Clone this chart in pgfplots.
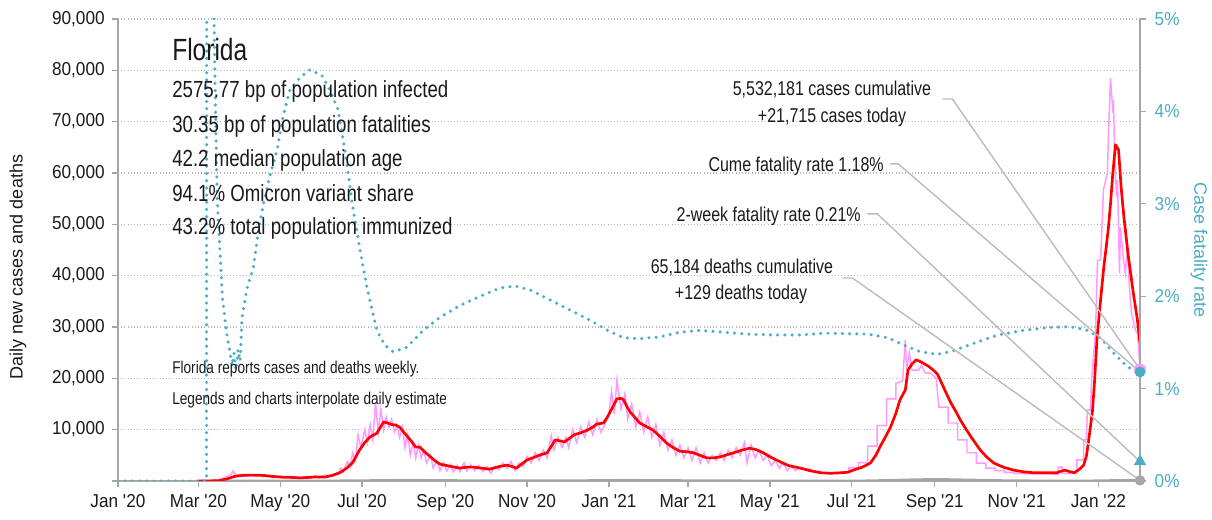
\documentclass[border=0pt]{standalone}
\usepackage{fontspec}
\setmainfont{Liberation Sans}[FakeStretch=0.8]
\newfontfamily\tickfont{Liberation Sans}[FakeStretch=0.92]
\newfontfamily\labfont{Liberation Sans}
\usepackage{pgfplots}
\pgfplotsset{compat=1.18}
\definecolor{cfr}{HTML}{4BACC6}
\definecolor{pinkc}{HTML}{FF99FF}
\definecolor{redc}{HTML}{FF0000}
\definecolor{axgray}{HTML}{A6A6A6}
\definecolor{leader}{HTML}{BDBDBD}
\definecolor{txt}{HTML}{1A1A1A}
\newcommand\tickfs{\tickfont\fontsize{14}{16}\selectfont}
\newcommand\labfs{\labfont\fontsize{13.5}{16}\selectfont}
\newcommand\titlefs{\fontsize{23}{26}\selectfont}
\newcommand\annfs{\fontsize{17.5}{20}\selectfont}
\newcommand\rfs{\fontsize{15}{18}\selectfont}
\newcommand\nfs{\fontsize{12.8}{15}\selectfont}
\begin{document}
\begin{tikzpicture}
\path[use as bounding box] (-88.5pt,-29.25pt) rectangle (820.5pt,360.75pt);
\begin{axis}[
  at={(0pt,0pt)}, anchor=south west,
  scale only axis, width=766.5pt, height=346.5pt,
  xmin=0, xmax=762, ymin=0, ymax=90,
  axis x line*=bottom, axis y line*=left,
  axis line style={axgray, line width=1.4pt},
  x axis line style={line width=2pt},
  xtick={0,60,121,182,244,305,366,425,486,547,609,670,731},
  xticklabels={Jan \textquotesingle20,Mar \textquotesingle20,May \textquotesingle20,Jul \textquotesingle20,Sep \textquotesingle20,Nov \textquotesingle20,Jan \textquotesingle21,Mar \textquotesingle21,May \textquotesingle21,Jul \textquotesingle21,Sep \textquotesingle21,Nov \textquotesingle21,Jan \textquotesingle22},
  ytick={0,10,...,90},
  yticklabels={{},{10,000},{20,000},{30,000},{40,000},{50,000},{60,000},{70,000},{80,000},{90,000}},
  tick align=outside,
  major tick length=4.5pt,
  tick style={axgray, line width=1pt},
  ymajorgrids,
  major grid style={gray!55, dotted, line width=0.8pt},
  tick label style={font=\tickfs, text=txt},
  yticklabel style={xshift=-2pt},
  xticklabel style={yshift=-2pt},
]
% daily cases (raw, interpolated)
\addplot[pinkc, line width=1.1pt] coordinates {
(60,0)(70,0.1)(75,0.2)(78,0.5)(81,0.9)(84,1.2)(86,2.0)(88,1.0)(91,1.3)(94,0.9)(98,1.2)(101,0.9)(105,1.2)(108,0.8)(112,1.1)(115,0.6)(119,0.9)(122,0.6)(126,0.8)(129,0.5)(133,0.7)(136,0.4)(140,0.9)(143,0.5)(147,1.0)(150,0.6)(154,1.2)(157,0.8)(161,1.4)(164,1.2)(166,2.5)(168,1.8)(171,3.8)(173,2.8)(175,5.5)(177,4.0)(179,9.0)(181,6.5)(184,10.0)(186,7.5)(188,11.0)(190,8.0)(192,15.3)(194,9.5)(196,14.0)(198,10.0)(200,12.5)(202,10.5)(204,12.0)(206,9.5)(208,11.0)(210,8.5)(212,10.5)(214,6.5)(216,9.0)(218,5.0)(220,7.5)(222,4.5)(224,7.0)(226,4.5)(228,6.0)(230,3.5)(233,5.0)(235,2.5)(238,4.0)(240,2.0)(243,3.5)(245,2.0)(248,3.2)(250,1.8)(253,3.0)(255,1.8)(258,3.5)(260,2.0)(263,3.2)(266,2.0)(269,3.0)(272,1.8)(275,2.8)(278,1.5)(281,2.8)(284,2.2)(287,3.5)(290,2.5)(293,3.8)(296,2.0)(299,3.5)(302,2.8)(305,4.8)(308,3.5)(311,5.5)(314,4.0)(317,6.0)(320,4.5)(323,8.8)(325,6.0)(328,8.5)(331,6.5)(334,8.5)(336,6.5)(339,10.0)(342,7.5)(345,10.5)(348,8.5)(351,11.5)(354,9.0)(357,12.0)(360,9.5)(363,11.0)(366,13.0)(368,17.5)(370,13.0)(372,19.7)(375,14.0)(378,17.0)(380,12.0)(383,15.0)(386,10.5)(389,13.5)(392,9.5)(395,12.5)(398,8.5)(401,11.0)(404,7.0)(407,9.5)(410,6.0)(413,8.0)(416,5.0)(419,7.0)(422,4.5)(425,6.5)(428,4.0)(431,6.5)(434,3.5)(437,5.5)(440,3.5)(443,5.0)(446,4.0)(449,5.5)(452,4.0)(455,6.0)(458,4.5)(461,6.5)(464,5.0)(467,7.5)(469,3.5)(472,7.0)(475,4.5)(478,6.0)(481,4.0)(484,5.0)(487,3.0)(490,4.0)(493,2.5)(496,3.5)(499,2.0)(502,3.0)(505,2.0)(508,2.5)
(510,2.3)(517,2.3)(517,1.9)(524,1.9)(524,1.6)(531,1.6)(531,1.5)(538,1.5)(538,1.7)(545,1.7)(545,2.6)(552,2.6)(552,3.6)(559,3.6)(559,6.8)(566,6.8)(566,10.8)(573,10.8)(573,16.0)(580,16.0)(580,19.0)(585,19.5)(587,27.5)(588,21.5)(590,25.0)(592,21.6)(597,21.6)(599,22.5)(602,21.0)(606,21.0)(610,20.0)(612,14.4)(619,14.4)(619,11.3)(626,11.3)(626,8.0)(633,8.0)(633,5.5)(640,5.5)(640,3.5)(647,3.5)(647,2.5)(654,2.5)(654,2.0)(661,2.0)(661,1.7)(668,1.7)(668,1.5)(675,1.5)(675,1.4)(696,1.4)(696,1.3)(701,1.3)(701,2.7)(704,2.7)(704,1.5)(710,1.5)(710,1.8)(715,1.8)(715,4.1)(720,4.1)(720,8.0)(722,8.0)(722.8,13.8)(725,13.8)(726,20)(728.8,28.8)(730.3,43)(732.5,43)(734,51.4)(734.7,56.7)(737.7,60)(738.5,67.8)(740,78.5)(741.5,72.9)(742.2,74.2)(743,64.5)(744.5,55.3)(745.2,58.6)(746.7,40.5)(747.4,49.5)(749.7,43)(751.1,40.5)(752.6,45.6)(754.1,37.8)(755.6,32.7)(758.6,29.4)(760.1,28.8)(762,22.2)
};
% daily deaths
\addplot[axgray, line width=1.8pt] coordinates {
(60,0)(80,0.01)(100,0.04)(120,0.045)(150,0.035)(180,0.08)(200,0.15)(220,0.18)(240,0.12)(270,0.09)(300,0.06)(330,0.08)(360,0.12)(380,0.17)(400,0.14)(430,0.09)(460,0.06)(490,0.05)(520,0.03)(560,0.06)(590,0.25)(610,0.35)(630,0.25)(660,0.1)(690,0.04)(720,0.03)(740,0.11)(762,0.129)
};
% 7-day average cases
\addplot[redc, line width=2pt, line join=round] coordinates {
(60,0)(75,0.05)(81,0.4)(87,0.9)(93,1.1)(100,1.15)(108,1.1)(115,0.9)(123,0.75)(130,0.7)(136,0.6)(142,0.7)(148,0.8)(154,0.75)(160,1.1)(166,1.7)(171,2.6)(175,3.6)(180,6.0)(184,7.5)(188,8.6)(193,9.3)(198,11.5)(201,11.3)(204,11.0)(207,10.9)(210,10.5)(214,9.2)(218,8.0)(222,6.6)(225,6.6)(229,5.6)(233,4.7)(237,3.8)(240,3.3)(247,2.9)(255,2.5)(260,2.7)(265,2.7)(271,2.5)(277,2.3)(284,2.8)(290,3.1)(294,2.8)(297,2.5)(301,3.3)(305,4.1)(310,4.6)(315,5.1)(320,5.5)(326,8.0)(330,7.8)(333,7.6)(337,8.4)(340,9.0)(345,9.4)(350,9.9)(354,10.5)(357,11.1)(362,11.3)(365,12.5)(369,14.5)(372,16.0)(375,16.1)(377,15.8)(380,14.2)(382,13.4)(386,12.2)(389,11.3)(394,10.6)(399,9.9)(404,8.7)(409,7.4)(414,6.5)(419,5.8)(424,5.7)(429,5.5)(434,5.0)(439,4.5)(444,4.5)(449,4.7)(454,5.1)(459,5.5)(465,6.0)(471,6.4)(476,6.1)(481,5.5)(487,4.6)(494,3.7)(500,3.0)(509,2.5)(516,2.0)(524,1.6)(531,1.5)(539,1.6)(544,1.7)(548,2.1)(555,2.7)(561,3.5)(565,5.0)(568,6.6)(572,8.5)(576,10.5)(580,13.2)(583,15.8)(587,17.7)(589,21.6)(592,22.8)(595,23.6)(598,23.3)(600,23.0)(604,22.4)(608,21.6)(611,20.8)(613,19.7)(617,17.4)(621,15.2)(625,13.4)(628,11.9)(632,10.2)(636,8.6)(640,7.1)(643,6.0)(648,4.6)(653,3.5)(660,2.7)(668,2.1)(675,1.8)(683,1.6)(692,1.6)(700,1.6)(703,1.9)(706,2.1)(710,1.8)(713,1.6)(717,2.3)(720,3.1)(722,4.8)(723.5,7.5)(725,10.5)(726.5,13.5)(728,19)(730,28.0)(732.5,35)(735,41.7)(737,46)(738.5,49.5)(740,54)(741.5,59.2)(743.7,65.5)(746,64.5)(748,57)(750,51.4)(753,44.4)(755,40.5)(757,36.6)(760,31.5)(762,26.9)
};
\end{axis}
\begin{axis}[
  at={(0pt,0pt)}, anchor=south west,
  scale only axis, width=766.5pt, height=346.5pt,
  xmin=0, xmax=762, ymin=0, ymax=5,
  axis x line=none, axis y line*=right,
  axis line style={axgray, line width=1.4pt},
  ytick={0,1,2,3,4,5},
  yticklabels={0\%,1\%,2\%,3\%,4\%,5\%},
  tick align=outside, major tick length=4.5pt,
  tick style={axgray, line width=1pt},
  yticklabel style={font=\tickfs, text=cfr, xshift=3pt},
]
% case fatality rate
\addplot[cfr, line width=2.6pt, line cap=round, dash pattern=on 0pt off 5.4pt] coordinates {
(0,0)(66,0)(66.3,9)(71.3,9)(71.6,4.99)(73,3.77)(74,3.04)(76,2.5)(78,1.96)(81,1.6)(83.5,1.39)(85,1.25)(86.5,1.38)(88,1.2)(89.5,1.42)(91,1.3)(92.5,1.77)(96,2.07)(101,2.32)(104.5,2.68)(108,2.97)(113,3.29)(118.6,3.58)(123,3.94)(128,4.23)(136,4.37)(143,4.45)(152,4.39)(158,4.23)(164,4.02)(168,3.69)(171.6,3.33)(175,2.97)(180.5,2.5)(186,2.07)(193,1.63)(199,1.47)(205,1.40)(210,1.42)(215.6,1.45)(227.5,1.63)(240,1.77)(255,1.9)(270,2.0)(285,2.09)(296,2.11)(307,2.07)(322,1.96)(337,1.85)(352,1.74)(365,1.63)(377,1.55)(389,1.54)(404,1.56)(419,1.61)(434,1.63)(451,1.61)(469,1.59)(489,1.58)(509,1.58)(526,1.6)(559,1.59)(574,1.55)(586,1.47)(598,1.40)(611,1.37)(623,1.41)(638,1.49)(656,1.58)(675,1.63)(693,1.66)(710,1.67)(723,1.63)(732.5,1.55)(742,1.39)(753,1.23)(762,1.18)
};
% leader lines
\draw[leader, line width=1.1pt] (axis cs:614.6,4.134) -- (axis cs:622.1,4.134) -- (axis cs:762,1.206);
\draw[leader, line width=1.1pt] (axis cs:575.9,3.431) -- (axis cs:581.8,3.431) -- (axis cs:762,1.18);
\draw[leader, line width=1.1pt] (axis cs:558.7,2.890) -- (axis cs:566.2,2.890) -- (axis cs:762,0.21);
\draw[leader, line width=1.1pt] (axis cs:540.1,2.197) -- (axis cs:547.6,2.197) -- (axis cs:762,0.007);
% end markers
\addplot[only marks, mark=*, mark size=4.3pt, mark options={fill=pinkc, draw=pinkc}] coordinates {(762,1.206)};
\addplot[only marks, mark=*, mark size=3.8pt, mark options={fill=cfr, draw=cfr}] coordinates {(762,1.18)};
\addplot[only marks, mark=triangle*, mark size=5pt, mark options={fill=cfr, draw=cfr}] coordinates {(762,0.21)};
\addplot[only marks, mark=*, mark size=3.7pt, mark options={fill=axgray, draw=axgray}] coordinates {(762,0.007)};
\end{axis}
\begin{scope}[x=0.75pt,y=-0.75pt,shift={(-88.5pt,360.75pt)}]
\node[anchor=base west, inner sep=0pt, font=\titlefs, text=txt] at (172,61) {Florida};
\node[anchor=base west, inner sep=0pt, font=\annfs, text=txt] at (172,98) {2575.77 bp of population infected};
\node[anchor=base west, inner sep=0pt, font=\annfs, text=txt] at (172,132.5) {30.35 bp of population fatalities};
\node[anchor=base west, inner sep=0pt, font=\annfs, text=txt] at (172,167) {42.2 median population age};
\node[anchor=base west, inner sep=0pt, font=\annfs, text=txt] at (172,201.5) {94.1\% Omicron variant share};
\node[anchor=base west, inner sep=0pt, font=\annfs, text=txt] at (172,235) {43.2\% total population immunized};
\node[anchor=base west, inner sep=0pt, font=\nfs, text=txt] at (172,374) {Florida reports cases and deaths weekly.};
\begin{scope}
\clip (165,380) rectangle (445,415);
\node[anchor=base west, inner sep=0pt, font=\nfs, text=txt] at (172,405) {Legends and charts interpolate daily estimates.};
\end{scope}
\node[anchor=base, inner sep=0pt, font=\rfs, text=txt] at (832,96) {5,532,181 cases cumulative};
\node[anchor=base, inner sep=0pt, font=\rfs, text=txt] at (832,122.5) {+21,715 cases today};
\node[anchor=base east, inner sep=0pt, font=\rfs, text=txt] at (884,171.5) {Cume fatality rate 1.18\%};
\node[anchor=base east, inner sep=0pt, font=\rfs, text=txt] at (861,221.5) {2-week fatality rate 0.21\%};
\node[anchor=base, inner sep=0pt, font=\rfs, text=txt] at (742,273.3) {65,184 deaths cumulative};
\node[anchor=base, inner sep=0pt, font=\rfs, text=txt] at (741,300) {+129 deaths today};
\node[rotate=90, inner sep=0pt, font=\labfs, text=txt] at (18,267) {Daily new cases and deaths};
\node[rotate=-90, inner sep=0pt, font=\labfs, text=cfr] at (1199,250) {Case fatality rate};
\end{scope}
\end{tikzpicture}
\end{document}
